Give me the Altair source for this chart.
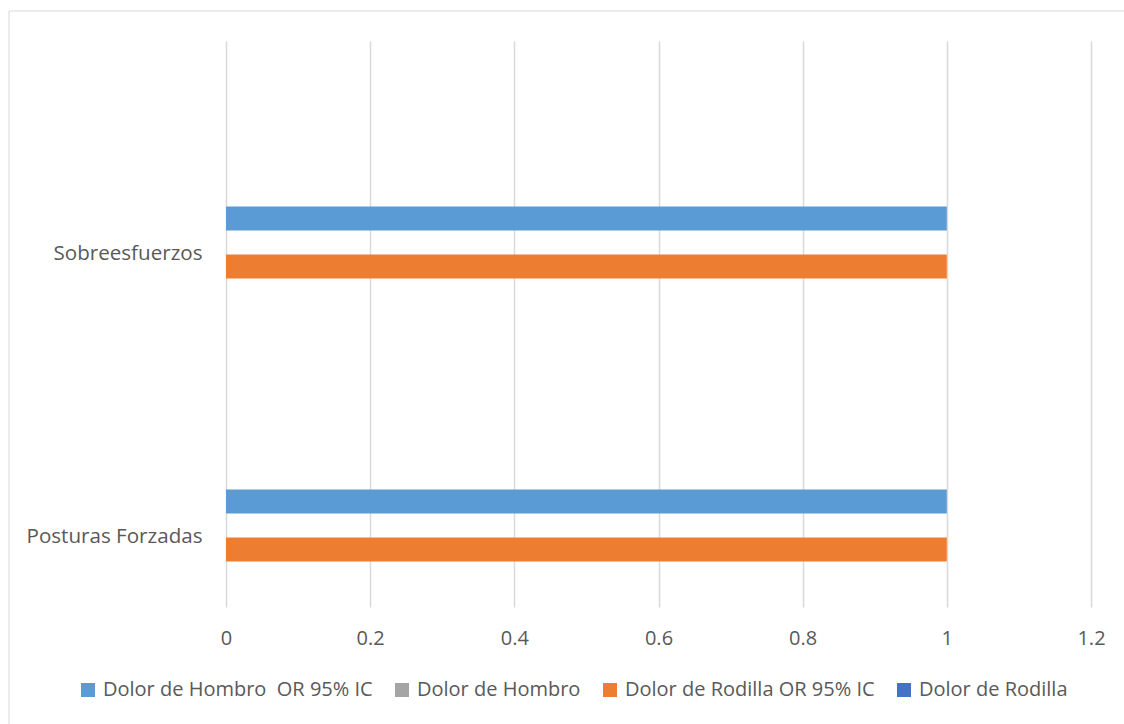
import altair as alt
import pandas as pd

categories = ["Sobreesfuerzos", "Posturas Forzadas"]
series = ["Dolor de Hombro\u00a0 OR 95% IC", "Dolor de Hombro", "Dolor de Rodilla OR 95% IC", "Dolor de Rodilla"]
colors = ["#5B9BD5", "#A5A5A5", "#ED7D31", "#4472C4"]
values = {
    "Dolor de Hombro\u00a0 OR 95% IC": [1, 1],
    "Dolor de Hombro": [0, 0],
    "Dolor de Rodilla OR 95% IC": [1, 1],
    "Dolor de Rodilla": [0, 0],
}
x_ticks = [0, 0.2, 0.4, 0.6, 0.8, 1.0, 1.2]

rows = []
for s in series:
    for c, v in zip(categories, values[s]):
        rows.append({"cat": c, "serie": s, "val": v})
df = pd.DataFrame(rows)

# slot order inside each category band (extra empty slots keep Excel's spacing)
slot_domain = ["_a", "_b", "_c", "_d", "Dolor de Rodilla", "Dolor de Hombro\u00a0 OR 95% IC",
               "Dolor de Hombro", "Dolor de Rodilla OR 95% IC"]

FONT = "Open Sans"
TXT = "#595959"
FS = 20

bars = alt.Chart(df).mark_bar(size=24).encode(
    x=alt.X("val:Q", scale=alt.Scale(domain=[0, 1.2], nice=False, zero=True),
            axis=alt.Axis(values=x_ticks, title=None, domain=False, ticks=False,
                          grid=True, gridColor="#d9d9d9", gridWidth=1.5,
                          labelFontSize=FS, labelColor=TXT, labelFont=FONT,
                          labelPadding=21, format="~g", labelFlush=False)),
    y=alt.Y("cat:N", sort=categories,
            scale=alt.Scale(paddingInner=0.3216, paddingOuter=0.1608),
            axis=alt.Axis(title=None, domain=False, ticks=False, grid=False,
                          labelFontSize=20.6, labelColor=TXT, labelFont=FONT,
                          labelPadding=24, labelOffset=71)),
    yOffset=alt.YOffset("serie:N", scale=alt.Scale(domain=slot_domain, paddingInner=0, paddingOuter=0)),
    color=alt.Color("serie:N", scale=alt.Scale(domain=series, range=colors),
                    legend=alt.Legend(title=None, orient="none", direction="horizontal",
                                      legendX=-148, legendY=639, symbolType="square",
                                      symbolSize=196, symbolStrokeWidth=0,
                                      labelFontSize=FS, labelColor=TXT, labelFont=FONT,
                                      columnPadding=19, labelOffset=5, labelLimit=500)),
)

border = alt.Chart(pd.DataFrame({"k": [0]})).mark_rect(
    fill=None, stroke="#d9d9d9", strokeWidth=1
).encode(
    x=alt.value(9 - 226), x2=alt.value(1130 - 226),
    y=alt.value(11 - 41), y2=alt.value(740 - 41),
)

chart = alt.layer(border, bars).properties(
    width=865, height=566,
    autosize=alt.AutoSizeParams(type="none"),
    padding={"left": 226, "top": 41, "right": 33, "bottom": 117},
    background="white",
).configure_view(stroke=None)

chart.save("out.html", embed_options={"renderer": "svg", "actions": False})
